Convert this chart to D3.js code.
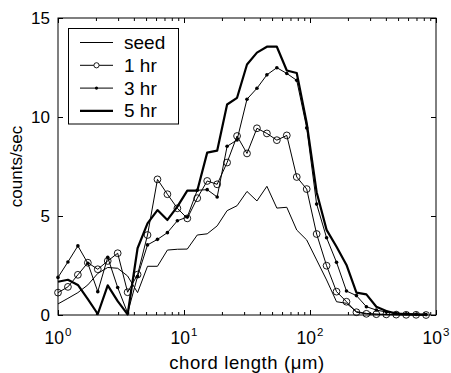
<!DOCTYPE html>
<html>
<head>
<meta charset="utf-8">
<script src="https://cdn.jsdelivr.net/npm/d3@7"></script>
<style>
  body { margin: 0; background: #fff; }
  text { font-family: "Liberation Sans", Arial, sans-serif; fill: #000; }
</style>
</head>
<body>
<div id="chart"></div>
<script>
"use strict"

// chord length channel centres (um), 38 log-spaced channels
const chord = [1.00, 1.199, 1.438, 1.725, 2.069, 2.481, 2.976, 3.569, 4.281, 5.134,
               6.158, 7.385, 8.859, 10.62, 12.74, 15.28, 18.33, 21.98, 26.37, 31.62,
               37.93, 45.49, 54.56, 65.44, 78.48, 94.13, 112.9, 135.4, 162.4, 194.8,
               233.6, 280.2, 336.1, 403.1, 483.4, 579.8, 695.4, 834.0];

const seed = [0.56, 0.84, 1.13, 1.52, 2.1, 2.4, 2.36, 1.97, 1.13, 2.46,
              2.46, 3.28, 3.32, 3.33, 4.04, 4.1, 4.5, 5.27, 5.52, 6.24,
              5.76, 6.5, 5.4, 5.44, 4.29, 3.79, 2.78, 1.77, 0.67, 0.59,
              0.17, 0.08, 0.04, 0.02, 0.01, 0.0, 0.0, 0.0];

const hr1 = [1.13, 1.42, 2.03, 2.64, 2.31, 2.73, 3.12, 1.15, 2.04, 4.04,
             6.85, 6.1, 5.39, 4.88, 5.9, 6.77, 6.6, 7.7, 9.04, 8.16,
             9.43, 9.17, 8.83, 9.07, 6.97, 6.36, 4.09, 2.49, 1.18, 0.67,
             0.14, 0.06, 0.04, 0.03, 0.02, 0.01, 0.01, 0.0];

const hr3 = [1.9, 2.68, 3.49, 2.61, 1.18, 2.91, 1.39, 0.1, 1.95, 3.54,
             3.82, 4.16, 4.76, 4.95, 6.3, 6.33, 5.96, 8.52, 8.84, 10.9,
             11.45, 12.13, 12.49, 12.2, 11.85, 9.45, 5.6, 3.9, 2.66, 1.21,
             0.98, 0.42, 0.25, 0.15, 0.08, 0.06, 0.03, 0.02];

const hr5 = [1.68, 1.78, 1.52, 0.8, 0.05, 1.5, 0.7, 0.03, 3.37, 4.63,
             5.3, 4.8, 5.47, 6.28, 6.28, 8.2, 8.3, 10.63, 10.97, 12.65,
             13.25, 13.55, 13.55, 12.35, 12.22, 9.7, 6.2, 4.3, 3.45, 2.53,
             1.13, 1.04, 0.42, 0.2, 0.07, 0.05, 0.03, 0.02];

const seriesNames = ["seed", "1 hr", "3 hr", "5 hr"];
const xDecades = [1, 10, 100, 1000];
const yTicks = [0, 5, 10, 15];

const series = [
  {name: seriesNames[0], values: seed, width: 1,   marker: null},
  {name: seriesNames[1], values: hr1,  width: 1,   marker: "open"},
  {name: seriesNames[2], values: hr3,  width: 1,   marker: "dot"},
  {name: seriesNames[3], values: hr5,  width: 2.2, marker: null},
];

const W = 451, H = 373;
const m = {left: 58, right: 15, top: 18, bottom: 58};

let x = d3.scaleLog().domain([1, 1000]).range([m.left, W - m.right]);
let y = d3.scaleLinear().domain([0, 15]).range([H - m.bottom, m.top]);

let svg = (
  d3.select("#chart")
    .append("svg")
    .attr("width", W)
    .attr("height", H));

svg.append("rect").attr("width", W).attr("height", H).attr("fill", "#fff");

let majors = xDecades;
let minors = x.ticks().filter((t) => !xDecades.includes(t));

// Ticks, all pointing inward
let axB = svg.append("g").attr("transform", `translate(0,${y(0)})`);
axB.call(d3.axisBottom(x).tickValues(minors).tickSize(-3).tickFormat(""));
axB.append("g").call(d3.axisBottom(x).tickValues(majors).tickSize(-5).tickFormat(""));

let axT = svg.append("g").attr("transform", `translate(0,${y(15)})`);
axT.call(d3.axisTop(x).tickValues(minors).tickSize(-3).tickFormat(""));
axT.append("g").call(d3.axisTop(x).tickValues(majors).tickSize(-5).tickFormat(""));

svg.append("g")
  .attr("transform", `translate(${x(1)},0)`)
  .call(d3.axisLeft(y).tickValues(yTicks).tickSize(-5).tickFormat(""));
svg.append("g")
  .attr("transform", `translate(${x(1000)},0)`)
  .call(d3.axisRight(y).tickValues(yTicks).tickSize(-5).tickFormat(""));

svg.selectAll(".domain").remove();
svg.selectAll(".tick line").attr("stroke", "#000").attr("stroke-width", 1);

// Frame
svg.append("rect")
  .attr("x", x(1)).attr("y", y(15))
  .attr("width", x(1000) - x(1)).attr("height", y(0) - y(15))
  .attr("fill", "none").attr("stroke", "#000").attr("stroke-width", 1);

// Tick labels
(svg
  .selectAll("text.ylab")
    .data(yTicks)
  .enter()
    .append("text")
      .attr("class", "ylab")
      .attr("x", x(1) - 8)
      .attr("y", (d) => y(d) + 6)
      .attr("text-anchor", "end")
      .attr("font-size", 17)
      .text((d) => d)
);

let xl = (svg
  .selectAll("text.xlab")
    .data(xDecades)
  .enter()
    .append("text")
      .attr("class", "xlab")
      .attr("x", (d) => x(d))
      .attr("y", y(0) + 29)
      .attr("text-anchor", "middle")
      .attr("font-size", 17.5));
xl.append("tspan").text("10");
xl.append("tspan")
  .attr("font-size", 11.5)
  .attr("dx", 1)
  .attr("dy", -8)
  .text((d) => Math.round(Math.log10(d)));

// Axis titles
svg.append("text")
  .attr("x", (x(1) + x(1000)) / 2)
  .attr("y", H - 4)
  .attr("text-anchor", "middle")
  .attr("font-size", 18.5)
  .attr("letter-spacing", 0.6)
  .text("chord length (\u03bcm)");

svg.append("text")
  .attr("transform", `translate(22,${(y(0) + y(15)) / 2}) rotate(-90)`)
  .attr("text-anchor", "middle")
  .attr("font-size", 17)
  .text("counts/sec");

// Draw series
let plot = svg.append("g");
let line = d3.line().x((d, i) => x(chord[i])).y((d) => y(d));

series.forEach((s) => {
  plot.append("path")
    .attr("d", line(s.values))
    .attr("fill", "none")
    .attr("stroke", "#000")
    .attr("stroke-width", s.width)
    .attr("stroke-linejoin", "round");

  if (s.marker == "open") {
    (plot.selectAll(null)
      .data(s.values)
    .enter()
      .append("circle")
        .attr("cx", (d, i) => x(chord[i]))
        .attr("cy", (d) => y(d))
        .attr("r", 3.4)
        .attr("fill", "none")
        .attr("stroke", "#000")
        .attr("stroke-width", 0.9));
  } else if (s.marker == "dot") {
    (plot.selectAll(null)
      .data(s.values)
    .enter()
      .append("circle")
        .attr("cx", (d, i) => x(chord[i]))
        .attr("cy", (d) => y(d))
        .attr("r", 1.8)
        .attr("fill", "#000"));
  }
});

// Legend
let lg = svg.append("g");
lg.append("rect")
  .attr("x", 68.5).attr("y", 28.5)
  .attr("width", 110).attr("height", 95.5)
  .attr("fill", "#fff").attr("stroke", "#000").attr("stroke-width", 1);

series.forEach((s, i) => {
  let ly = 42.5 + i * 22.8;
  lg.append("line")
    .attr("x1", 80).attr("x2", 113)
    .attr("y1", ly).attr("y2", ly)
    .attr("stroke", "#000")
    .attr("stroke-width", s.width);
  if (s.marker == "open") {
    lg.append("circle").attr("cx", 96.5).attr("cy", ly).attr("r", 2.6)
      .attr("fill", "#fff").attr("stroke", "#000").attr("stroke-width", 0.9);
  } else if (s.marker == "dot") {
    lg.append("circle").attr("cx", 96.5).attr("cy", ly).attr("r", 1.6).attr("fill", "#000");
  }
  lg.append("text")
    .attr("x", 124)
    .attr("y", ly + 6.5)
    .attr("font-size", 19)
    .text(s.name);
});
</script>
</body>
</html>
